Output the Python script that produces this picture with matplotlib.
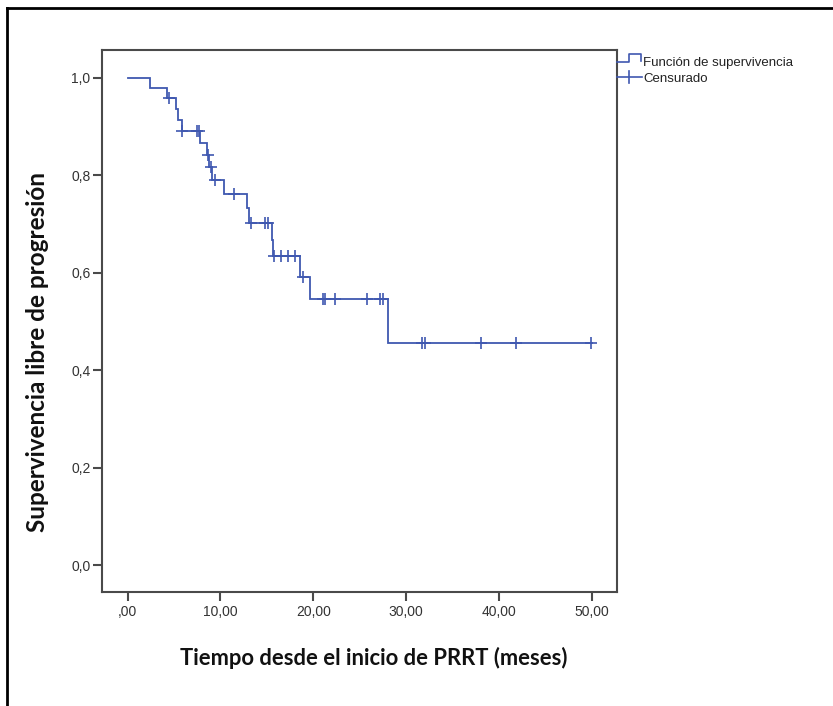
import numpy as np
import matplotlib
matplotlib.use('Agg')
import matplotlib.pyplot as plt
from matplotlib.lines import Line2D
from matplotlib import font_manager as fm

# ---------------- data ----------------
step_times = [0.0, 2.4, 4.2, 5.2, 5.4, 5.8, 7.8, 8.55, 8.8, 9.05, 10.4,
              12.9, 13.1, 15.6, 15.7, 18.6, 19.7, 28.0]
step_surv = [1.0, 0.979, 0.959, 0.935, 0.913, 0.891, 0.867, 0.841, 0.816,
             0.790, 0.761, 0.732, 0.702, 0.668, 0.634, 0.592, 0.547, 0.456]
end_time = 50.0
censor_times = [4.4, 5.9, 7.5, 7.7, 8.7, 8.95, 9.4, 11.5, 13.3, 14.8, 15.1,
                15.8, 16.5, 17.3, 18.0, 18.9, 21.0, 21.3, 22.3, 25.75, 27.2,
                27.5, 31.7, 32.0, 38.1, 41.8, 49.9]
x_ticks = [0, 10, 20, 30, 40, 50]
x_ticklabels = [",00", "10,00", "20,00", "30,00", "40,00", "50,00"]
y_ticks = [0.0, 0.2, 0.4, 0.6, 0.8, 1.0]
y_ticklabels = ["0,0", "0,2", "0,4", "0,6", "0,8", "1,0"]
legend_labels = ["Función de supervivencia", "Censurado"]
xlabel = "Tiempo desde el inicio de PRRT (meses)"
ylabel = "Supervivencia libre de progresión"

# ---------------- styling ----------------
W, H = 833, 706
blue = '#3f58b0'
spine_col = '#4a4a4a'
names = {f.name for f in fm.fontManager.ttflist}
narrow = 'Liberation Sans Narrow' in names
tick_font = 'Liberation Sans'
leg_font = 'Liberation Sans Narrow' if narrow else 'Liberation Sans'
leg_size = 11 if narrow else 9.5
bold_font = 'Lato' if 'Lato' in names else 'DejaVu Sans'

fig = plt.figure(figsize=(W / 100, H / 100), dpi=100)
fig.patch.set_facecolor('white')

def fx(px):
    return px / W

def fy(py):
    return 1 - py / H

ax_l, ax_r, ax_t, ax_b = 101.7, 616.7, 50.0, 592.0
ax = fig.add_axes([fx(ax_l), fy(ax_b), (ax_r - ax_l) / W, (ax_b - ax_t) / H])

xs = step_times + [end_time]
ys = step_surv + [step_surv[-1]]
ax.step(xs, ys, where='post', color=blue, lw=1.3, solid_joinstyle='miter')
idx = np.searchsorted(step_times, censor_times, side='right') - 1
c_levels = [step_surv[i] for i in idx]
ax.plot(censor_times, c_levels, linestyle='none', marker='+', ms=8,
        mew=1.2, color=blue)

ax.set_xlim(-2.8, 52.7)
ax.set_ylim(-0.055, 1.057)
ax.set_xticks(x_ticks)
ax.set_xticklabels(x_ticklabels)
ax.set_yticks(y_ticks)
ax.set_yticklabels(y_ticklabels)
for s in ax.spines.values():
    s.set_color(spine_col)
    s.set_linewidth(1.5)
ax.tick_params(axis='both', direction='out', length=6.5, width=1.5,
               color=spine_col, labelcolor='#333333', labelsize=10)
ax.tick_params(axis='y', pad=1.5)
ax.tick_params(axis='x', pad=3)
for lab in ax.get_xticklabels() + ax.get_yticklabels():
    lab.set_fontfamily(tick_font)

# legend (drawn manually, SPSS-style)
step_x = [616.7, 629, 629, 641, 641]
step_y = [62.3, 62.3, 54.3, 54.3, 61]
fig.add_artist(Line2D([fx(v) for v in step_x], [fy(v) for v in step_y],
                      color=blue, lw=1.2))
fig.add_artist(Line2D([fx(617), fx(642)], [fy(76.7), fy(76.7)], color=blue, lw=1.2))
fig.add_artist(Line2D([fx(629.3), fx(629.3)], [fy(70.7), fy(82.7)], color=blue, lw=1.2))
fig.text(fx(643), fy(65.7), legend_labels[0], family=leg_font, size=leg_size,
         color='#222222', va='baseline', ha='left')
fig.text(fx(643), fy(82.0), legend_labels[1], family=leg_font, size=leg_size,
         color='#222222', va='baseline', ha='left')

# axis titles, fitted to the reference widths
tx = fig.text(fx(373.5), fy(658), xlabel, family=bold_font, weight='bold',
              size=14, ha='center', va='center', color='#111111')
ty = fig.text(fx(37.7), fy(352), ylabel, family=bold_font, weight='bold',
              size=14, ha='center', va='center', rotation=90, color='#111111')
r = fig.canvas.get_renderer()
wx = tx.get_window_extent(r).width
wy = ty.get_window_extent(r).height
sx = 14 * 387 / wx
sy = 14 * 362 / wy
tx.set_fontsize(sx)
ty.set_fontsize(sy)

# figure frame (left and top edges)
fig.add_artist(Line2D([fx(6.5), fx(6.5)], [fy(8), fy(706)], color='black', lw=2))
fig.add_artist(Line2D([fx(6.5), fx(833)], [fy(8), fy(8)], color='black', lw=2))

fig.savefig('out.png', dpi=100, facecolor='white')
